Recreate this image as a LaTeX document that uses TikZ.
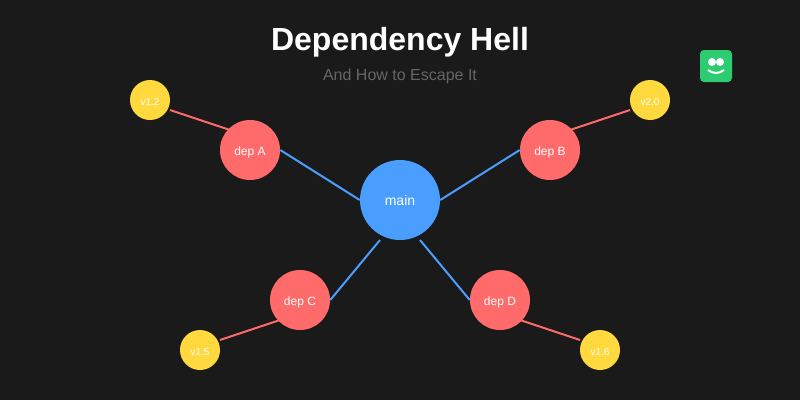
\documentclass[tikz,border=0pt]{standalone}
\usepackage{fontspec}
\setmainfont{Liberation Sans}
\usepackage{tikz}
\definecolor{hellbg}{HTML}{1A1A1A}
\definecolor{mainblue}{HTML}{4A9EFF}
\definecolor{depred}{HTML}{FF6B6B}
\definecolor{veryellow}{HTML}{FFD93D}
\definecolor{logogreen}{HTML}{2ECC71}
\definecolor{subgray}{HTML}{666666}
\tikzset{
	bubble/.style={circle,inner sep=0pt,text=white,text height=7.5pt,text depth=0pt},
	mainnode/.style={bubble,fill=mainblue,minimum size=60pt,font=\fontsize{10.5pt}{12pt}\selectfont},
	depnode/.style={bubble,fill=depred,minimum size=45pt,font=\fontsize{9pt}{11pt}\selectfont},
	vernode/.style={bubble,fill=veryellow,minimum size=30pt,font=\fontsize{7.5pt}{9pt}\selectfont},
	mainline/.style={draw=mainblue,line width=1.5pt},
	depline/.style={draw=depred,line width=1.5pt}
}
\begin{document}
\begin{tikzpicture}[x=0.75pt,y=-0.75pt]
	\useasboundingbox (0,0) rectangle (800,400);
	\fill[hellbg] (0,0) rectangle (800,400);
	
	% Titel
	\node[anchor=base,text=white,inner sep=0pt,font=\fontsize{24pt}{28pt}\selectfont\bfseries] (title) at (400,50) {Dependency Hell};
	\node[anchor=base,text=subgray,inner sep=0pt,font=\fontsize{12pt}{14pt}\selectfont] (subtitle) at (400,80) {And How to Escape It};
	
	% freie Enden
	\coordinate (mainC) at (380,240);
	\coordinate (mainD) at (420,240);
	\coordinate (outA) at (230,130);
	\coordinate (outB) at (570,130);
	\coordinate (outC) at (280,320);
	\coordinate (outD) at (520,320);
	\coordinate (end12) at (170,110);
	\coordinate (end20) at (630,110);
	\coordinate (end15) at (220,340);
	\coordinate (end16) at (580,340);
	
	% Kreise
	\node[mainnode] (main) at (400,200) {main};
	\node[depnode] (depA) at (250,150) {dep A};
	\node[depnode] (depB) at (550,150) {dep B};
	\node[depnode] (depC) at (300,300) {dep C};
	\node[depnode] (depD) at (500,300) {dep D};
	\node[vernode] (ver12) at (150,100) {v1.2};
	\node[vernode] (ver20) at (650,100) {v2.0};
	\node[vernode] (ver15) at (200,350) {v1.5};
	\node[vernode] (ver16) at (600,350) {v1.6};
	
	% Linien
	\draw[mainline] (main.west) -- (depA.east);
	\draw[mainline] (main.east) -- (depB.west);
	\draw[mainline] (mainC) -- (depC.east);
	\draw[mainline] (mainD) -- (depD.west);
	\draw[depline] (end12) -- (outA);
	\draw[depline] (end20) -- (outB);
	\draw[depline] (end15) -- (outC);
	\draw[depline] (end16) -- (outD);
	
	% Logo
	\fill[logogreen,rounded corners=3pt] (700,50) rectangle (732,82);
	\fill[white] (712,62) circle (3pt);
	\fill[white] (720,62) circle (3pt);
	\draw[white,line width=1.5pt] (708,70) .. controls (713.3,74) and (718.7,74) .. (724,70);
\end{tikzpicture}
\end{document}
